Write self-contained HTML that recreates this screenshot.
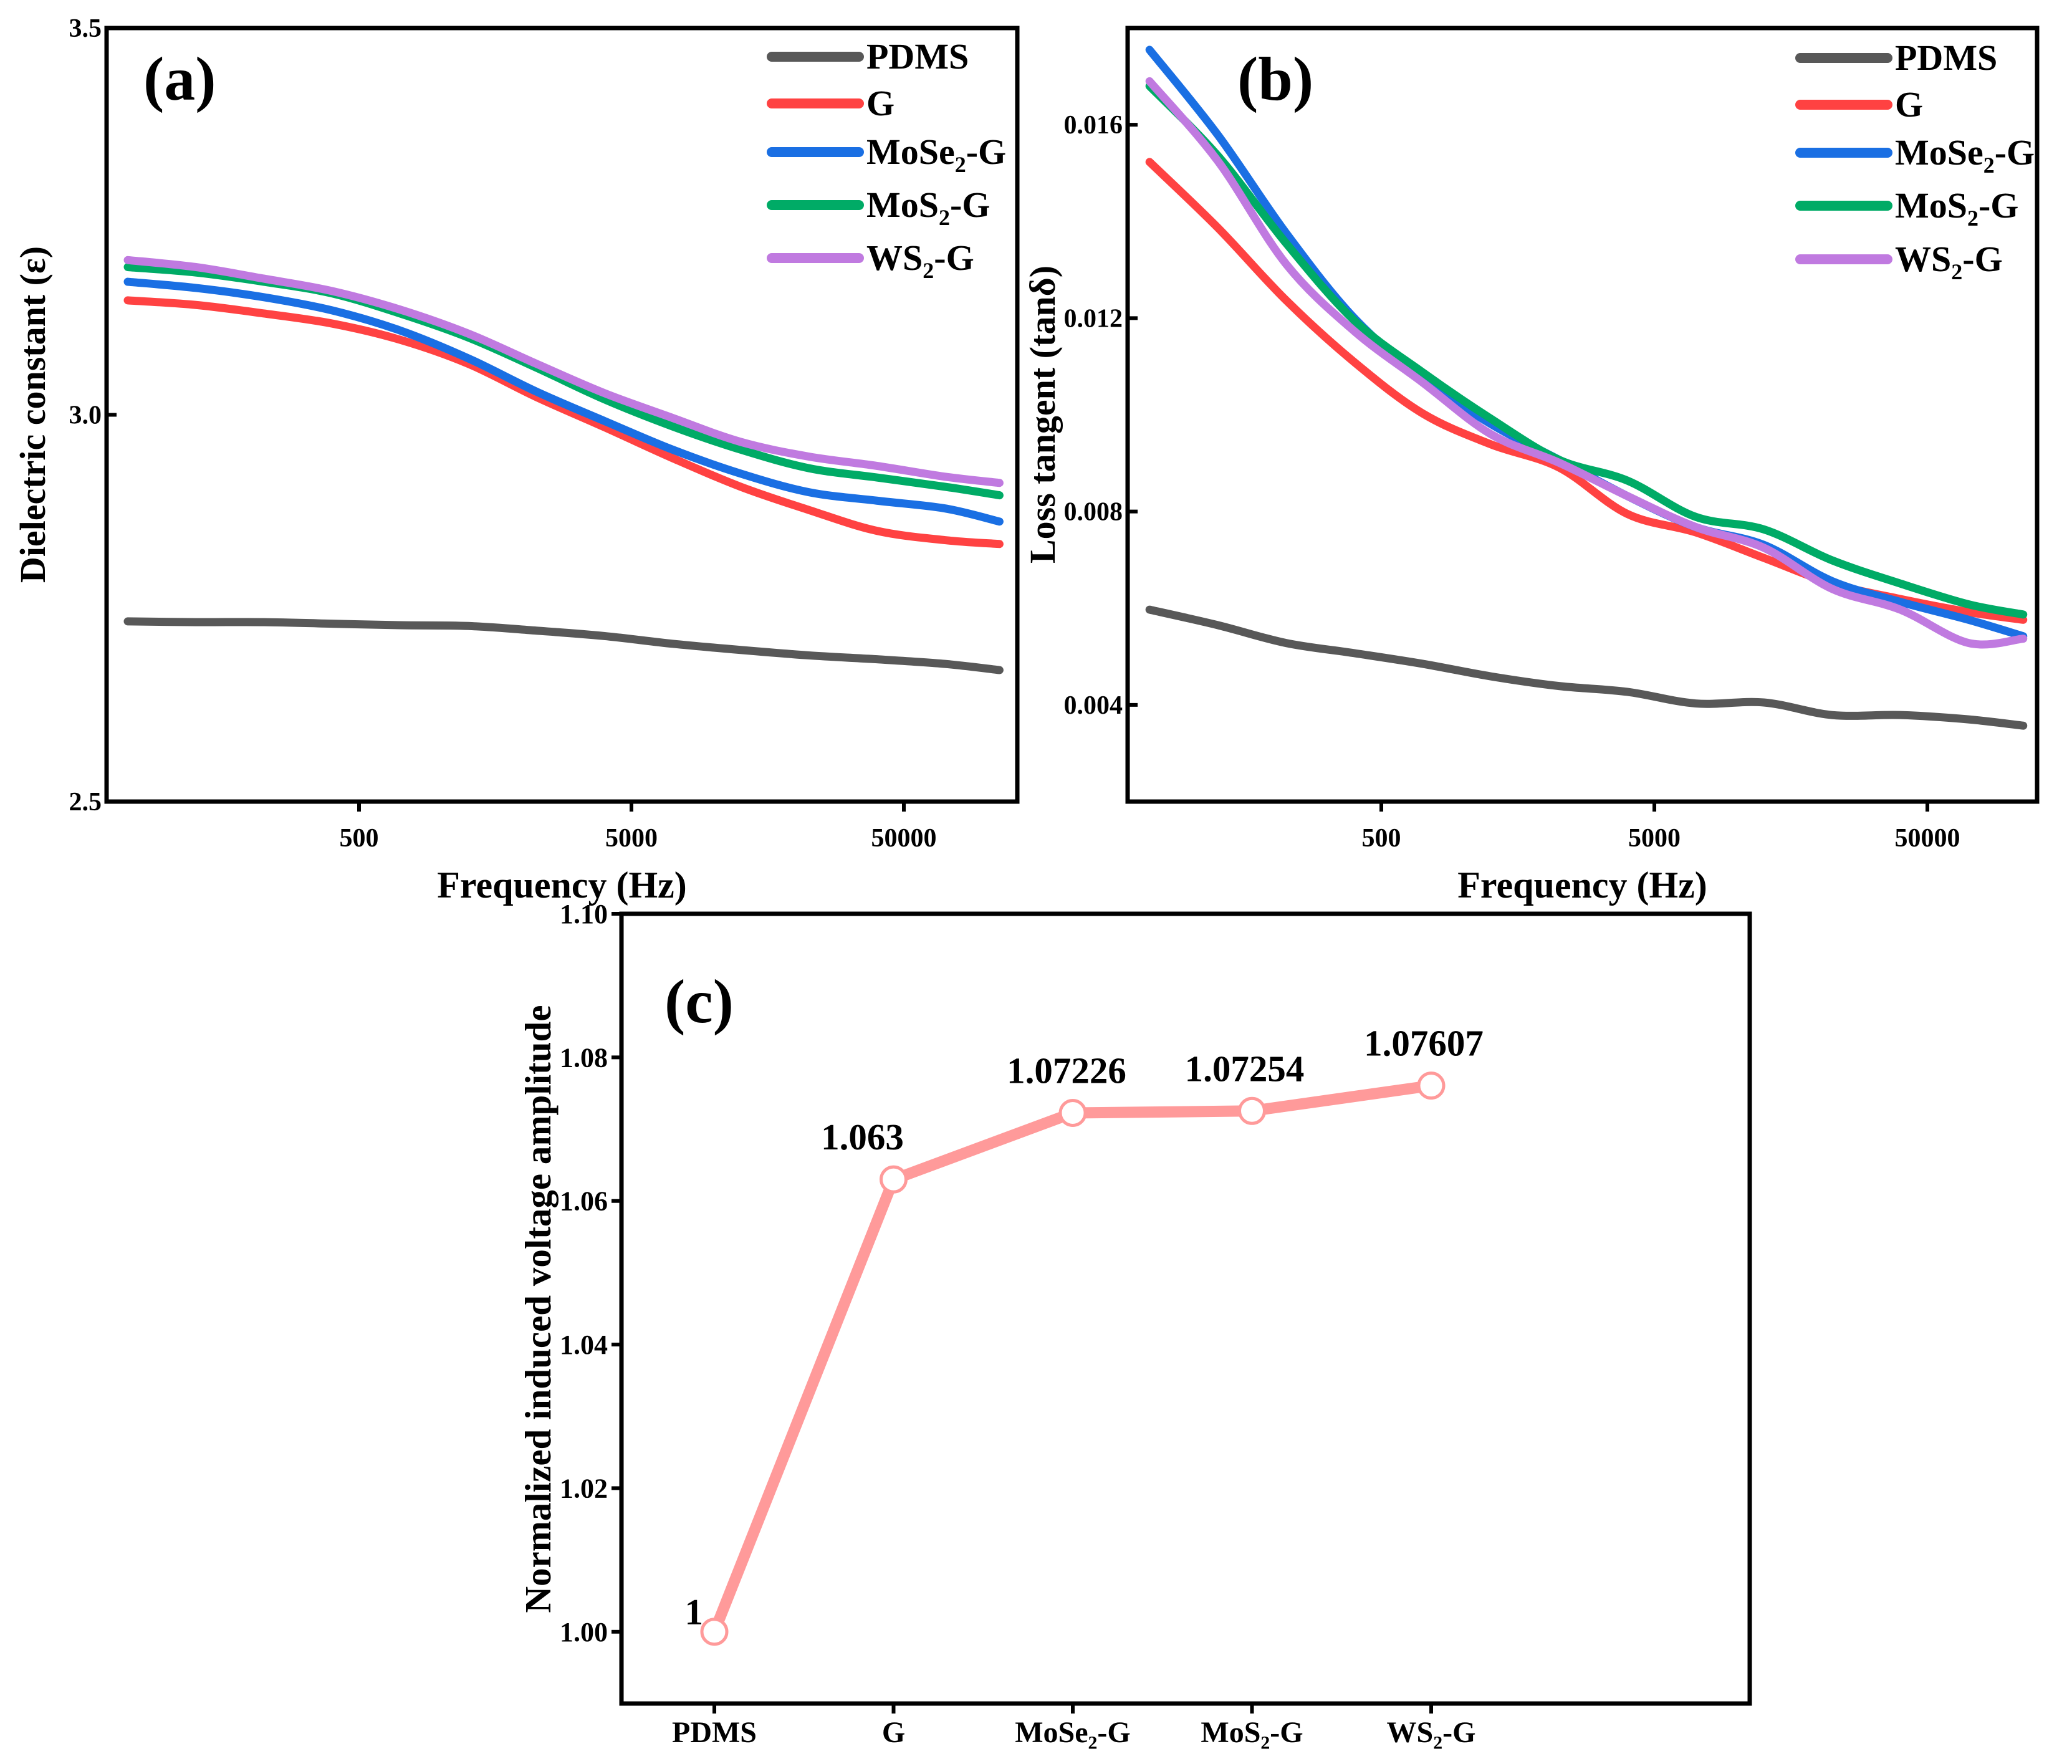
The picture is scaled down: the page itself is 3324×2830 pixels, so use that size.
<!DOCTYPE html>
<html><head><meta charset="utf-8"><style>
html,body{margin:0;padding:0;background:#fff}
svg{display:block}
text{font-family:"Liberation Serif","DejaVu Serif",serif;font-weight:bold;fill:#000}
</style></head><body>
<svg id="fig" width="3324" height="2830" viewBox="0 0 3324 2830" xmlns="http://www.w3.org/2000/svg"></svg>
<script>
// ---------- data ----------
const logFreq = [1.85,2.10,2.35,2.60,2.85,3.10,3.35,3.60,3.85,4.10,4.35,4.60,4.85,5.05];
const epsPDMS = [2.733,2.732,2.732,2.730,2.728,2.727,2.721,2.714,2.704,2.696,2.689,2.684,2.678,2.670];
const epsG    = [3.148,3.142,3.131,3.118,3.097,3.066,3.023,2.984,2.944,2.907,2.877,2.850,2.838,2.833];
const epsMoSe2= [3.172,3.164,3.152,3.135,3.109,3.073,3.030,2.992,2.955,2.924,2.900,2.889,2.879,2.862];
const epsMoS2 = [3.191,3.184,3.172,3.157,3.131,3.100,3.061,3.020,2.985,2.955,2.931,2.919,2.907,2.896];
const epsWS2  = [3.200,3.191,3.176,3.160,3.136,3.105,3.066,3.028,2.996,2.965,2.946,2.934,2.920,2.912];
const tanPDMS = [0.00597,0.00565,0.00528,0.00507,0.00485,0.00459,0.00439,0.00427,0.00403,0.00405,0.00379,0.00379,0.00370,0.00357];
const tanG    = [0.01523,0.01387,0.01237,0.01109,0.01003,0.00939,0.00891,0.00795,0.00757,0.00704,0.00651,0.00619,0.00592,0.00576];
const tanMoSe2= [0.01755,0.01579,0.01376,0.01200,0.01077,0.00981,0.00907,0.00832,0.00768,0.00731,0.00656,0.00613,0.00576,0.00542];
const tanMoS2 = [0.01680,0.01536,0.01355,0.01195,0.01088,0.00992,0.00907,0.00864,0.00789,0.00763,0.00699,0.00651,0.00608,0.00587];
const tanWS2  = [0.01690,0.01525,0.01312,0.01173,0.01067,0.00960,0.00901,0.00832,0.00768,0.00725,0.00640,0.00597,0.00528,0.00537];
const xTicks = [500,5000,50000];
const epsTicks = [2.5,3.0,3.5];
const tanTicks = [0.004,0.008,0.012,0.016];
const categories = ["PDMS","G","MoSe2-G","MoS2-G","WS2-G"];
const voltValues = [1,1.063,1.07226,1.07254,1.07607];
const voltLabels = ["1","1.063","1.07226","1.07254","1.07607"];
const voltTicks = [1.00,1.02,1.04,1.06,1.08,1.10];
const seriesNames = ["PDMS","G","MoSe2-G","MoS2-G","WS2-G"];
const colors = ["#585858","#ff4242","#1a6fe3","#00ab66","#c07ae0"];

const NS="http://www.w3.org/2000/svg";
const svg=document.getElementById('fig');
function el(tag,attrs,parent){const e=document.createElementNS(NS,tag);for(const k in attrs)e.setAttribute(k,attrs[k]);(parent||svg).appendChild(e);return e;}
function label(txt,x,y,size,anchor,parent){
  const t=el('text',{x:x,y:y,'font-size':size,'text-anchor':anchor||'start'},parent);
  const m=txt.match(/^(\w+?)(\d)(-G)$/);
  if(m){t.appendChild(document.createTextNode(m[1]));
    const s=el('tspan',{'font-size':size*0.62,dy:size*0.22},t);s.textContent=m[2];
    const r=el('tspan',{dy:-size*0.22},t);r.textContent=m[3];}
  else t.textContent=txt;
  return t;}
function smoothPath(pts){let d='M'+pts[0][0]+','+pts[0][1];
  for(let i=0;i<pts.length-1;i++){const p0=pts[i-1]||pts[i],p1=pts[i],p2=pts[i+1],p3=pts[i+2]||p2;
    d+=' C'+(p1[0]+(p2[0]-p0[0])/6)+','+(p1[1]+(p2[1]-p0[1])/6)+' '+(p2[0]-(p3[0]-p1[0])/6)+','+(p2[1]-(p3[1]-p1[1])/6)+' '+p2[0]+','+p2[1];}
  return d;}

function linePanel(o){
  const g=el('g',{});
  
  
  const L=o.L,R=o.R,T=o.T,B=o.B;
  const xs=lf=>o.x500+(lf-Math.log10(500))*o.dec;
  const ys=v=>B-(v-o.ymin)/(o.ymax-o.ymin)*(B-T);
  o.series.forEach((arr,i)=>{
    const pts=arr.map((v,j)=>[xs(logFreq[j]),ys(v)]);
    const p=el('path',{d:smoothPath(pts),fill:'none',stroke:colors[i],'stroke-width':13,'stroke-linecap':'round','stroke-linejoin':'round'},g);
    
    
  });
  const f=el('rect',{x:L,y:T,width:R-L,height:B-T,fill:'none',stroke:'#000','stroke-width':7},g);
  
  
  xTicks.forEach(t=>{const x=xs(Math.log10(t));
    el('line',{x1:x,x2:x,y1:B,y2:B+16,stroke:'#000','stroke-width':6},g);
    const tl=label(String(t),x,B+72,42,'middle',g);
    
    });
  o.yticks.forEach(t=>{const y=ys(t);
    el('line',{x1:L,x2:L+16,y1:y,y2:y,stroke:'#000','stroke-width':6},g);
    const tl=label(o.fmt(t),L-8,y+14,42,'end',g);
    
    });
  const xt=label('Frequency (Hz)',(L+R)/2,1440,60,'middle',g);
  
  
  const yt=el('text',{x:0,y:0,'font-size':58,'text-anchor':'middle',transform:'translate('+o.ytx+','+(o.ytc)+') rotate(-90)'},g);
  yt.textContent=o.ytitle;
  
  
  const pl=label(o.tag,o.tagx,160,100,'start',g);
  
  
  seriesNames.forEach((n,i)=>{const y=o.legY[i];
    const le=el('g',{},g);
    
    
    el('line',{x1:o.legX,x2:o.legX+140,y1:y,y2:y,stroke:colors[i],'stroke-width':16,'stroke-linecap':'round'},le);
    label(n,o.legX+152,y+19,58,'start',le);});
}
linePanel({name:'panel-a-dielectric',L:171,R:1632,T:45,B:1286,x500:576,dec:437,ymin:2.5,ymax:3.5,
  series:[epsPDMS,epsG,epsMoSe2,epsMoS2,epsWS2],yticks:epsTicks,fmt:t=>t.toFixed(1),
  ytitle:'Dielectric constant (ε)',ytx:72,ytc:665,tag:'(a)',tagx:230,legX:1238,legY:[91,166,244,329,414]});
linePanel({name:'panel-b-loss-tangent',L:1809,R:3268,T:45,B:1286,x500:2216,dec:438,ymin:0.002,ymax:0.018,
  series:[tanPDMS,tanG,tanMoSe2,tanMoS2,tanWS2],yticks:tanTicks,fmt:t=>t.toFixed(3),
  ytitle:'Loss tangent (tanδ)',ytx:1692,ytc:665,tag:'(b)',tagx:1985,legX:2888,legY:[93,168,245,330,416]});

// ---------- panel c ----------
(function(){
  const g=el('g',{});
  
  
  const L=997,R=2807,T=1466,B=2733,ymin=0.99,ymax=1.10;
  const xs=i=>1146+i*287.5;
  const ys=v=>B-(v-ymin)/(ymax-ymin)*(B-T);
  const f=el('rect',{x:L,y:T,width:R-L,height:B-T,fill:'none',stroke:'#000','stroke-width':7},g);
  
  
  voltTicks.forEach(t=>{const y=ys(t);
    el('line',{x1:L-16,x2:L,y1:y,y2:y,stroke:'#000','stroke-width':6},g);
    const tl=label(t.toFixed(2),L-22,y+15,44,'end',g);
    
    });
  categories.forEach((c,i)=>{const x=xs(i);
    el('line',{x1:x,x2:x,y1:B,y2:B+16,stroke:'#000','stroke-width':6},g);
    const tl=label(c,x,2795,48,'middle',g);
    
    });
  const pts=voltValues.map((v,i)=>[xs(i),ys(v)]);
  const ln=el('polyline',{points:pts.map(p=>p.join(',')).join(' '),fill:'none',stroke:'#ff9a9a','stroke-width':18,'stroke-linejoin':'round'},g);
  
  
  const offs=[[-18,-12,'end'],[-50,-48,'middle'],[-10,-48,'middle'],[-12,-48,'middle'],[-12,-48,'middle']];
  pts.forEach((p,i)=>{
    const c=el('circle',{cx:p[0],cy:p[1],r:20,fill:'#fff',stroke:'#ff9a9a','stroke-width':5},g);
    
    
    const t=label(voltLabels[i],p[0]+offs[i][0],p[1]+offs[i][1],59,offs[i][2],g);
    
    
  });
  const yt=el('text',{x:0,y:0,'font-size':59,'text-anchor':'middle',transform:'translate(883,2100) rotate(-90)'},g);
  yt.textContent='Normalized induced voltage amplitude';
  
  
  const pl=label('(c)',1066,1640,100,'start',g);
  
  
})();
</script>
</body></html>
